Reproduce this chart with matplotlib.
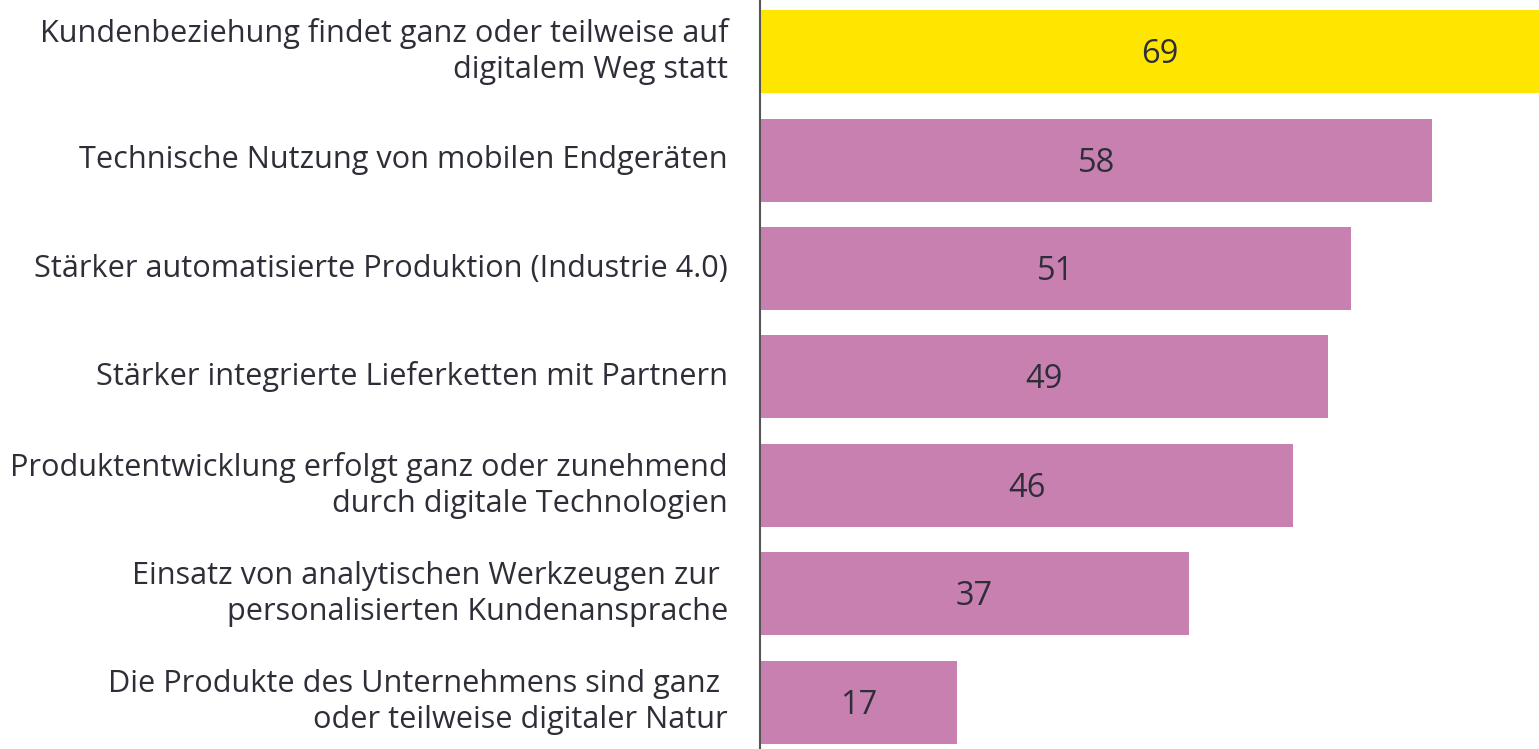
import matplotlib
matplotlib.use("Agg")
import matplotlib.pyplot as plt

categories = [
    "Kundenbeziehung findet ganz oder teilweise auf\ndigitalem Weg statt",
    "Technische Nutzung von mobilen Endgeräten",
    "Stärker automatisierte Produktion (Industrie 4.0)",
    "Stärker integrierte Lieferketten mit Partnern",
    "Produktentwicklung erfolgt ganz oder zunehmend\ndurch digitale Technologien",
    "Einsatz von analytischen Werkzeugen zur \npersonalisierten Kundenansprache",
    "Die Produkte des Unternehmens sind ganz \noder teilweise digitaler Natur",
]
values = [69, 58, 51, 49, 46, 37, 17]
colors = ["#FFE600", "#C880B0", "#C880B0", "#C880B0", "#C880B0", "#C880B0", "#C880B0"]

text_color = "#2E2E38"
plt.rcParams['font.family'] = ['Open Sans', 'DejaVu Sans']

fig = plt.figure(figsize=(15.39, 7.49), dpi=100)
ax = fig.add_axes([760/1539, 0, 1 - 760/1539, 1])

y = list(range(len(values)))
ax.barh(y, values, height=0.765, color=colors)
ax.set_ylim(6.429, -0.475)
ax.set_xlim(0, 67.2)

for i, v in enumerate(values):
    ax.annotate(str(v), xy=(v / 2, i), xytext=(0, -3), textcoords='offset pixels',
                ha='center', va='center', fontsize=23.5, color=text_color)

for i, lab in enumerate(categories):
    ax.annotate(lab, xy=(0, i), xycoords=('axes fraction', 'data'),
                xytext=(-32, 0), textcoords='offset pixels',
                ha='right', va='center', multialignment='right',
                fontsize=22.1, color=text_color, linespacing=1.26)

for s in ['top', 'right', 'bottom']:
    ax.spines[s].set_visible(False)
ax.spines['left'].set_color('#555555')
ax.spines['left'].set_linewidth(1.5)
ax.set_xticks([])
ax.set_yticks([])

fig.savefig("out.png", dpi=100)
